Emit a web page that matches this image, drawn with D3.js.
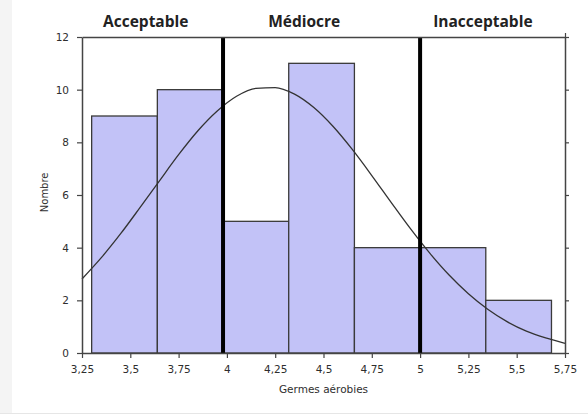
<!DOCTYPE html>
<html>
<head>
<meta charset="utf-8">
<script src="https://cdn.jsdelivr.net/npm/d3@7"></script>
<style>
  body { margin: 0; background: #fff; }
  svg { display: block; }
</style>
</head>
<body>
<div id="wrapper"></div>
<script>
// histogram bins (edges) and counts
const binEdges = [3.30, 3.64, 3.98, 4.32, 4.66, 5.00, 5.34, 5.68]
const counts = [9, 10, 5, 11, 4, 4, 2]

// fitted curve
const curveX = [3.25, 3.35, 3.45, 3.55, 3.65, 3.75, 3.85, 3.95, 4.05, 4.15, 4.25, 4.35, 4.45,
  4.55, 4.65, 4.75, 4.85, 4.95, 5.05, 5.15, 5.25, 5.35, 5.45, 5.55, 5.65, 5.75]
const curveY = [2.81, 3.62, 4.53, 5.52, 6.53, 7.53, 8.44, 9.19, 9.75, 10.05, 10.08, 9.83, 9.32,
  8.60, 7.72, 6.74, 5.72, 4.72, 3.79, 2.96, 2.25, 1.66, 1.19, 0.83, 0.57, 0.37]

// zone limits and labels
const limits = [3.98, 5.00]
const zoneLabels = ["Acceptable", "Médiocre", "Inacceptable"]
const zoneLabelAt = [3.58, 4.40, 5.325]

const xTicks = [3.25, 3.5, 3.75, 4, 4.25, 4.5, 4.75, 5, 5.25, 5.5, 5.75]
const yTicks = [0, 2, 4, 6, 8, 10, 12]

let dimensions = {
  width: 588,
  height: 416,
  margin: { top: 37, right: 23, bottom: 63, left: 82 },
}
dimensions.boundedWidth = dimensions.width - dimensions.margin.left - dimensions.margin.right
dimensions.boundedHeight = dimensions.height - dimensions.margin.top - dimensions.margin.bottom

const wrapper = d3.select("#wrapper")
  .append("svg")
  .attr("width", dimensions.width)
  .attr("height", dimensions.height)

// faint page frame
wrapper.append("rect")
  .attr("x", 0).attr("y", 0)
  .attr("width", 12).attr("height", 413)
  .attr("fill", "#f4f4f4")
wrapper.append("line")
  .attr("x1", 0).attr("x2", dimensions.width)
  .attr("y1", 413.5).attr("y2", 413.5)
  .attr("stroke", "#e6e6e6")

const bounds = wrapper.append("g")
  .attr("transform", `translate(${dimensions.margin.left},${dimensions.margin.top})`)

const xScale = d3.scaleLinear()
  .domain([3.25, 5.75])
  .range([0, dimensions.boundedWidth])

const yScale = d3.scaleLinear()
  .domain([0, 12])
  .range([dimensions.boundedHeight, 0])

// bars
bounds.append("g")
  .selectAll("rect")
  .data(counts)
  .join("rect")
  .attr("x", (d, i) => xScale(binEdges[i]))
  .attr("y", d => yScale(d))
  .attr("width", (d, i) => xScale(binEdges[i + 1]) - xScale(binEdges[i]))
  .attr("height", d => yScale(0) - yScale(d))
  .attr("fill", "#c2c2f7")
  .attr("stroke", "#3a3a3a")
  .attr("stroke-width", 1.3)

// curve
const lineGenerator = d3.line()
  .x((d, i) => xScale(curveX[i]))
  .y(d => yScale(d))
  .curve(d3.curveMonotoneX)

bounds.append("path")
  .attr("d", lineGenerator(curveY))
  .attr("fill", "none")
  .attr("stroke", "#333")
  .attr("stroke-width", 1.3)

// thick limit lines
bounds.append("g")
  .selectAll("line")
  .data(limits)
  .join("line")
  .attr("x1", d => xScale(d))
  .attr("x2", d => xScale(d))
  .attr("y1", 0)
  .attr("y2", dimensions.boundedHeight + 1)
  .attr("stroke", "#000")
  .attr("stroke-width", 4)

// axes
const styleAxis = g => {
  g.select(".domain").attr("stroke", "#444").attr("stroke-width", 1.5)
  g.selectAll(".tick line").attr("stroke", "#444").attr("stroke-width", 1.2)
  g.selectAll(".tick text")
    .attr("fill", "#2e2e2e")
    .style("font-family", "'DejaVu Sans', sans-serif")
    .style("font-size", "10.5px")
}

const xAxis = bounds.append("g")
  .attr("transform", `translate(0,${dimensions.boundedHeight})`)
  .call(d3.axisBottom(xScale)
    .tickValues(xTicks)
    .tickSize(5)
    .tickSizeOuter(0)
    .tickPadding(8)
    .tickFormat(d => String(d).replace(".", ",")))
  .call(styleAxis)

const yAxis = bounds.append("g")
  .call(d3.axisLeft(yScale)
    .tickValues(yTicks)
    .tickSize(5)
    .tickSizeOuter(0)
    .tickPadding(8))
  .call(styleAxis)

const yAxisRight = bounds.append("g")
  .attr("transform", `translate(${dimensions.boundedWidth},0)`)
  .call(d3.axisRight(yScale)
    .tickValues(yTicks)
    .tickSize(4)
    .tickSizeOuter(0)
    .tickFormat(""))
  .call(styleAxis)

const xAxisTop = bounds.append("g")
  .call(d3.axisTop(xScale)
    .tickValues([5.75])
    .tickSize(4)
    .tickSizeOuter(0)
    .tickFormat(""))
  .call(styleAxis)

// axis labels
xAxis.append("text")
  .attr("x", xScale(4.5))
  .attr("y", 40)
  .attr("fill", "#2e2e2e")
  .attr("text-anchor", "middle")
  .style("font-family", "'DejaVu Sans', sans-serif")
  .style("font-size", "10.5px")
  .text("Germes aérobies")

yAxis.append("text")
  .attr("transform", "rotate(-90)")
  .attr("x", -yScale(6.1))
  .attr("y", -34)
  .attr("fill", "#2e2e2e")
  .attr("text-anchor", "middle")
  .style("font-family", "'DejaVu Sans', sans-serif")
  .style("font-size", "10px")
  .text("Nombre")

// zone labels
bounds.append("g")
  .selectAll("text")
  .data(zoneLabels)
  .join("text")
  .attr("x", (d, i) => xScale(zoneLabelAt[i]))
  .attr("y", -10)
  .attr("text-anchor", "middle")
  .attr("fill", "#222")
  .style("font-family", "'Open Sans', sans-serif")
  .style("font-weight", "bold")
  .style("font-size", "15.5px")
  .text(d => d)
</script>
</body>
</html>
